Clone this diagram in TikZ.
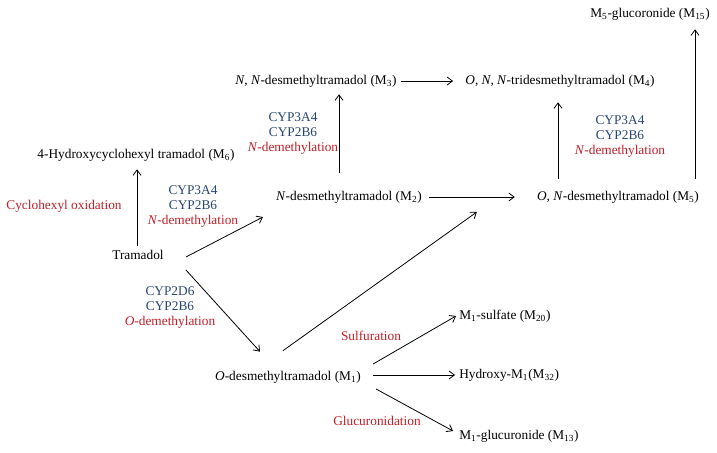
\documentclass[tikz,border=0pt]{standalone}
\usepackage{fontspec}
\setmainfont{Liberation Serif}
\usetikzlibrary{arrows.meta, positioning, calc}
\definecolor{EnzBlue}{RGB}{40,70,115}
\definecolor{RxnRed}{RGB}{195,30,40}

\begin{document}
\begin{tikzpicture}[
    x=0.75pt, y=-0.75pt,
    cmpd/.style={
        inner sep=0pt,
        font=\fontsize{10}{11.25}\selectfont
    },
    note/.style={
        inner sep=0pt,
        align=center,
        font=\fontsize{10}{11.25}\selectfont
    },
    arr/.style={-{Straight Barb[length=4pt, width=6pt]}, line width=0.6pt}
]
\useasboundingbox (0,0) rectangle (717,453);

% COMPOUNDS
\node[cmpd] (tram) at (138,255) {Tramadol};

\node[cmpd] (m6) at (136,155)
{4-Hydroxycyclohexyl tramadol (M\textsubscript{6})};

\node[cmpd] (m2) at (349,197)
{\textit{N}-desmethyltramadol (M\textsubscript{2})};

\node[cmpd] (m3) at (316,81)
{\textit{N}, \textit{N}-desmethyltramadol (M\textsubscript{3})};

\node[cmpd] (m4) at (560,81)
{\textit{O, N, N}-tridesmethyltramadol (M\textsubscript{4})};

\node[cmpd] (m5) at (618,197)
{\textit{O, N}-desmethyltramadol (M\textsubscript{5})};

\node[cmpd] (m15) at (650,14)
{M\textsubscript{5}-glucoronide (M\textsubscript{15})};

\node[cmpd] (m1) at (288,377)
{\textit{O}-desmethyltramadol (M\textsubscript{1})};

\node[cmpd, anchor=west] (m20) at (459,316)
{M\textsubscript{1}-sulfate (M\textsubscript{20})};

\node[cmpd, anchor=west] (m32) at (459,375)
{Hydroxy-M\textsubscript{1}(M\textsubscript{32})};

\node[cmpd, anchor=west] (m13) at (459,436)
{M\textsubscript{1}-glucuronide (M\textsubscript{13})};

% REACTIONS
\draw[arr] ([shift={(-1,-4)}]tram.north) -- ([shift={(1,8)}]m6.south);
\draw[arr] ([shift={(22,2)}]tram.east) -- ([shift={(-13,20)}]m2.west);
\draw[arr] ([shift={(22,15)}]tram.east) -- ([shift={(-28,-19)}]m1.north);
\draw[arr] ([shift={(-10,-18)}]m2.north) -- ([shift={(23,7)}]m3.south);
\draw[arr] ([shift={(4,0)}]m3.east) -- ([shift={(-12,0)}]m4.west);
\draw[arr] ([shift={(7,0)}]m2.east) -- ([shift={(-22,0)}]m5.west);
\draw[arr] ([shift={(-5,-20)}]m1.north) -- ([shift={(-60,15)}]m5.west);
\draw[arr] ([shift={(-60,-12)}]m5.north) -- ([shift={(-2,15)}]m4.south);
\draw[arr] ([shift={(77,-12)}]m5.north) -- ([shift={(45,9)}]m15.south);
\draw[arr] ([shift={(12,-13)}]m1.east) -- ([shift={(-3,0)}]m20.west);
\draw[arr] ([shift={(12,-2)}]m1.east) -- ([shift={(-4,0)}]m32.west);
\draw[arr] ([shift={(15,12)}]m1.east) -- ([shift={(-6,-5)}]m13.west);

% LABELS
\node[note, text=RxnRed] (oxi) at (64,206) {Cyclohexyl oxidation};

\node[note] (ndm1) at (193,207)
{\textcolor{EnzBlue}{CYP3A4}\\\textcolor{EnzBlue}{CYP2B6}\\\textcolor{RxnRed}{\textit{N}-demethylation}};

\node[note] (ndm2) at (293,134)
{\textcolor{EnzBlue}{CYP3A4}\\\textcolor{EnzBlue}{CYP2B6}\\\textcolor{RxnRed}{\textit{N}-demethylation}};

\node[note] (ndm3) at (620,137)
{\textcolor{EnzBlue}{CYP3A4}\\\textcolor{EnzBlue}{CYP2B6}\\\textcolor{RxnRed}{\textit{N}-demethylation}};

\node[note] (odm) at (170,308)
{\textcolor{EnzBlue}{CYP2D6}\\\textcolor{EnzBlue}{CYP2B6}\\\textcolor{RxnRed}{\textit{O}-demethylation}};

\node[note, text=RxnRed] (sulf) at (371,336) {Sulfuration};

\node[note, text=RxnRed] (gluc) at (377,421) {Glucuronidation};

\end{tikzpicture}
\end{document}
